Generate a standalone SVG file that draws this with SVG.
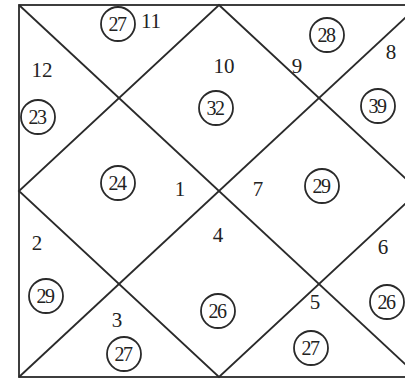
<svg xmlns="http://www.w3.org/2000/svg" width="405" height="381" viewBox="0 0 405 381">
<style>
.ln{stroke:#2a2a2a;stroke-width:1.8;fill:none}
.c{stroke:#2a2a2a;stroke-width:1.8;fill:none}
text{font-family:"Liberation Serif","Times New Roman",serif;font-size:21px;fill:#222;text-anchor:middle;dominant-baseline:central}
.n{font-size:20px;letter-spacing:-1.5px}
</style>
<rect width="405" height="381" fill="#fff"/>
<g id="connectors">
<rect class="ln" x="19" y="5" width="400" height="372"/>
<polygon class="ln" points="219,5 419,191 219,377 19,191"/>
<line class="ln" x1="19" y1="5" x2="419" y2="377"/>
<line class="ln" x1="419" y1="5" x2="19" y2="377"/>
</g>
<g id="h1"><text x="180" y="189">1</text><circle class="c" cx="118" cy="183" r="17"/><text class="n" x="117" y="183">24</text></g>
<g id="h2"><text x="37" y="243">2</text><circle class="c" cx="46" cy="296" r="17"/><text class="n" x="45" y="296">29</text></g>
<g id="h3"><text x="117" y="320">3</text><circle class="c" cx="124" cy="354" r="17"/><text class="n" x="123" y="354">27</text></g>
<g id="h4"><text x="218" y="235">4</text><circle class="c" cx="218" cy="311" r="17"/><text class="n" x="217" y="311">26</text></g>
<g id="h5"><text x="315" y="302">5</text><circle class="c" cx="311" cy="348" r="17"/><text class="n" x="310" y="348">27</text></g>
<g id="h6"><text x="383" y="247">6</text><circle class="c" cx="387" cy="302" r="17"/><text class="n" x="386" y="302">26</text></g>
<g id="h7"><text x="258" y="189">7</text><circle class="c" cx="322" cy="186" r="17"/><text class="n" x="321" y="186">29</text></g>
<g id="h8"><text x="391" y="52">8</text><circle class="c" cx="378" cy="106" r="17"/><text class="n" x="377" y="106">39</text></g>
<g id="h9"><text x="297" y="66">9</text><circle class="c" cx="327" cy="35" r="17"/><text class="n" x="326" y="35">28</text></g>
<g id="h10"><text x="224" y="66">10</text><circle class="c" cx="216" cy="108" r="17"/><text class="n" x="215" y="108">32</text></g>
<g id="h11"><text x="151" y="21">11</text><circle class="c" cx="118" cy="24" r="17"/><text class="n" x="117" y="24">27</text></g>
<g id="h12"><text x="42" y="70">12</text><circle class="c" cx="38" cy="117" r="17"/><text class="n" x="37" y="117">23</text></g>
</svg>
